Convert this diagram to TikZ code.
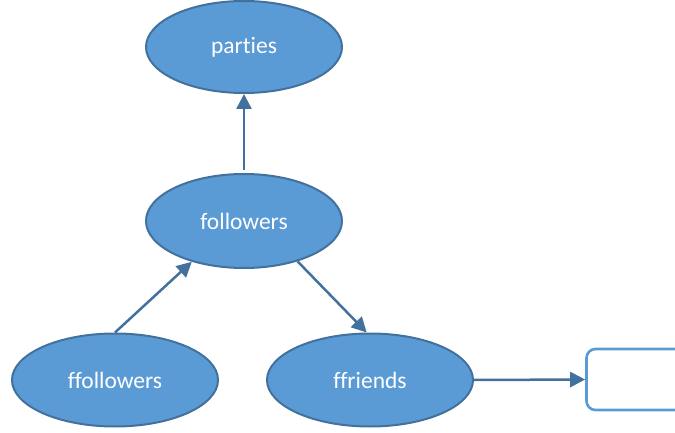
\documentclass[tikz,border=0pt]{standalone}
\usepackage{fontspec}
\setmainfont{Carlito}[Ligatures=NoCommon]
\usetikzlibrary{shapes.geometric,arrows.meta}
\definecolor{ellfill}{HTML}{5B9BD5}
\definecolor{elldraw}{HTML}{41719C}
\definecolor{arrowc}{HTML}{41719C}
\tikzset{
  ell/.style={ellipse, draw=elldraw, fill=ellfill, line width=2pt, inner sep=0pt,
    text=white, font=\fontsize{23.5}{28}\selectfont},
  conn/.style={draw=arrowc, line width=2.5pt, -{Triangle[length=15pt,width=15pt]}},
}
\begin{document}
\begin{tikzpicture}[x=1pt,y=-1pt]
\useasboundingbox (0,0) rectangle (675,433);
\clip (0,0) rectangle (675,433);
\node[ell, minimum width=196pt, minimum height=92pt] (parties) at (244,47) {parties};
\node[ell, minimum width=196pt, minimum height=94pt] (followers) at (244,221) {followers};
\node[ell, minimum width=206pt, minimum height=93pt] (ffollowers) at (115,380) {ffollowers};
\node[ell, minimum width=206pt, minimum height=93pt] (ffriends) at (370,380) {ffriends};
\node[draw=ellfill, line width=2.6pt, rounded corners=9pt, minimum width=115pt, minimum height=61pt, inner sep=0pt] (box) at (644,379.5) {};
\draw[conn, shorten <=3pt] (followers.north) -- (parties.south);
\draw[conn] (ffollowers.north) -- (followers.218.8);
\draw[conn] (followers.-37.7) -- (ffriends.94);
\draw[conn] (ffriends.east) -- (box.west);
\end{tikzpicture}
\end{document}
